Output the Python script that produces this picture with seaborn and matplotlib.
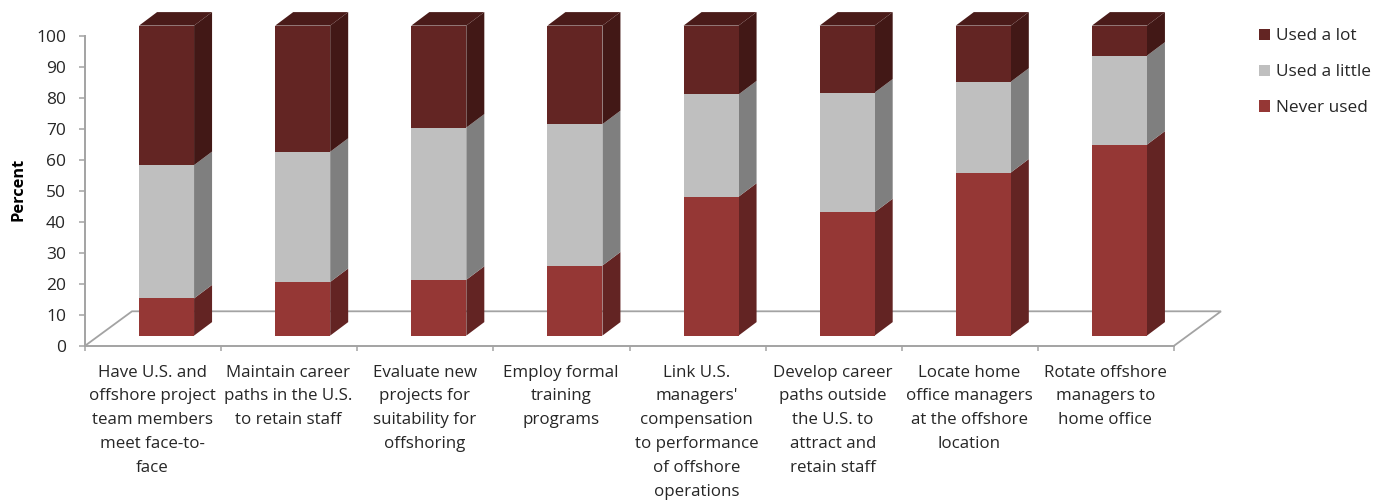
import numpy as np
import pandas as pd
import seaborn as sns
import matplotlib
matplotlib.use("Agg")
import matplotlib.pyplot as plt
import matplotlib.transforms as mtransforms
from matplotlib.patches import Patch

categories = [
    "Have U.S. and\noffshore project\nteam members\nmeet face-to-\nface",
    "Maintain career\npaths in the U.S.\nto retain staff",
    "Evaluate new\nprojects for\nsuitability for\noffshoring",
    "Employ formal\ntraining\nprograms",
    "Link U.S.\nmanagers'\ncompensation\nto performance\nof offshore\noperations",
    "Develop career\npaths outside\nthe U.S. to\nattract and\nretain staff",
    "Locate home\noffice managers\nat the offshore\nlocation",
    "Rotate offshore\nmanagers to\nhome office",
]
never_used = [12, 17.3, 18, 22.6, 44.8, 39.8, 52.6, 61.6]
used_little = [43, 42, 49.1, 45.6, 33, 38.6, 29.3, 28.7]
used_lot = [45, 40.7, 32.9, 31.8, 22.2, 21.6, 18.1, 9.7]
series = ["Used a lot", "Used a little", "Never used"]
yticks = list(range(0, 101, 10))

W, H = 1386, 501
sns.set_theme(style="white")
plt.rcParams["font.family"] = ["Open Sans", "DejaVu Sans"]
TXT = "#262626"
GRID = "#a3a3a3"
FRONT = {"Never used": "#953735", "Used a little": "#bfbfbf", "Used a lot": "#632523"}
SIDE = {"Never used": "#632423", "Used a little": "#7f7f7f", "Used a lot": "#421816"}
TOP = "#4a1b19"

fig = plt.figure(figsize=(W / 100, H / 100), dpi=100, facecolor="white")
ax = fig.add_axes([85 / W, (H - 345.8) / H, 1089 / W, 310 / H])

df = pd.DataFrame({"category": categories, "Never used": never_used,
                   "Used a little": used_little, "Used a lot": used_lot})
df["c1"] = df["Never used"]
df["c2"] = df["c1"] + df["Used a little"]
df["c3"] = df["c2"] + df["Used a lot"]

ax.set_xlim(-0.5, 7.5)
ax.set_ylim(0, 100)

# pixel-to-data helpers for the fake 3-D depth
px = 8 / 1089          # data x per pixel
py = 100 / 310         # data y per pixel
shift = mtransforms.offset_copy(ax.transData, fig, x=13.5, y=10.2, units="dots")
bar_w = 55 * px
dx, dy = 18 * px, 13.5 * py
flx, fly = 47 * px, 34.5 * py

# floor
ax.plot([-0.5, -0.5 + flx, 7.5 + flx, 7.5], [0, fly, fly, 0], color=GRID, lw=1.3,
        clip_on=False, zorder=1, solid_joinstyle="miter")

# side and top faces
for i in range(len(categories)):
    xr = i + bar_w / 2
    xl = i - bar_w / 2
    lo = 0
    for name, hi in zip(["Never used", "Used a little", "Used a lot"],
                        [df.c1[i], df.c2[i], df.c3[i]]):
        ax.fill([xr, xr + dx, xr + dx, xr], [lo, lo + dy, hi + dy, hi],
                color=SIDE[name], lw=0, transform=shift, clip_on=False, zorder=3)
        lo = hi
    ax.fill([xl, xr, xr + dx, xl + dx], [lo, lo, lo + dy, lo + dy], color=TOP, lw=0,
            transform=shift, clip_on=False, zorder=3)

# front faces: stacked by overdrawing cumulative totals
for col, name in [("c3", "Used a lot"), ("c2", "Used a little"), ("c1", "Never used")]:
    n0 = len(ax.patches)
    sns.barplot(data=df, x="category", y=col, color=FRONT[name], saturation=1,
                width=bar_w, errorbar=None, ax=ax, zorder=4, order=categories)
    for p in ax.patches[n0:]:
        p.set_transform(shift)
        p.set_clip_on(False)
        p.set_linewidth(0)
        p.set_zorder(4)

ax.set_xlim(-0.5, 7.5)
ax.set_ylim(0, 100)
sns.despine(ax=ax, top=True, right=True)
for s in ("left", "bottom"):
    ax.spines[s].set_color(GRID)
    ax.spines[s].set_linewidth(1.4)

ax.set_yticks(yticks)
ax.set_yticklabels([str(v) for v in yticks], fontsize=12.5, color=TXT)
ax.set_xticks(np.arange(-0.5, 8, 1), minor=False)
ax.set_xticklabels([])
ax.tick_params(axis="y", length=4.5, width=1.1, color=GRID, pad=9.2, left=True)
ax.tick_params(axis="x", length=3.5, width=1.1, color=GRID, bottom=True)
for i, lab in enumerate(categories):
    ax.annotate(lab, xy=(i, 0), xycoords=ax.get_xaxis_transform(),
                xytext=(-0.5, -13.5), textcoords="offset points",
                ha="center", va="top", fontsize=12.2, color=TXT, linespacing=1.655)
ax.set_xlabel("")
ax.set_ylabel("Percent", fontsize=11.8, fontweight="bold", color="black")
ax.yaxis.set_label_coords((27 - 85) / 1089, 0.505)

handles = [Patch(facecolor=FRONT[s], edgecolor="none", label=s) for s in series]
fig.legend(handles=handles, loc="upper left", bbox_to_anchor=(1259 / W, 1 - 28.5 / H),
           frameon=False, fontsize=12.4, labelcolor=TXT, handlelength=0.63, handleheight=0.63,
           handletextpad=0.33, labelspacing=1.15, borderpad=0, borderaxespad=0)

fig.savefig("out.png", dpi=100)
